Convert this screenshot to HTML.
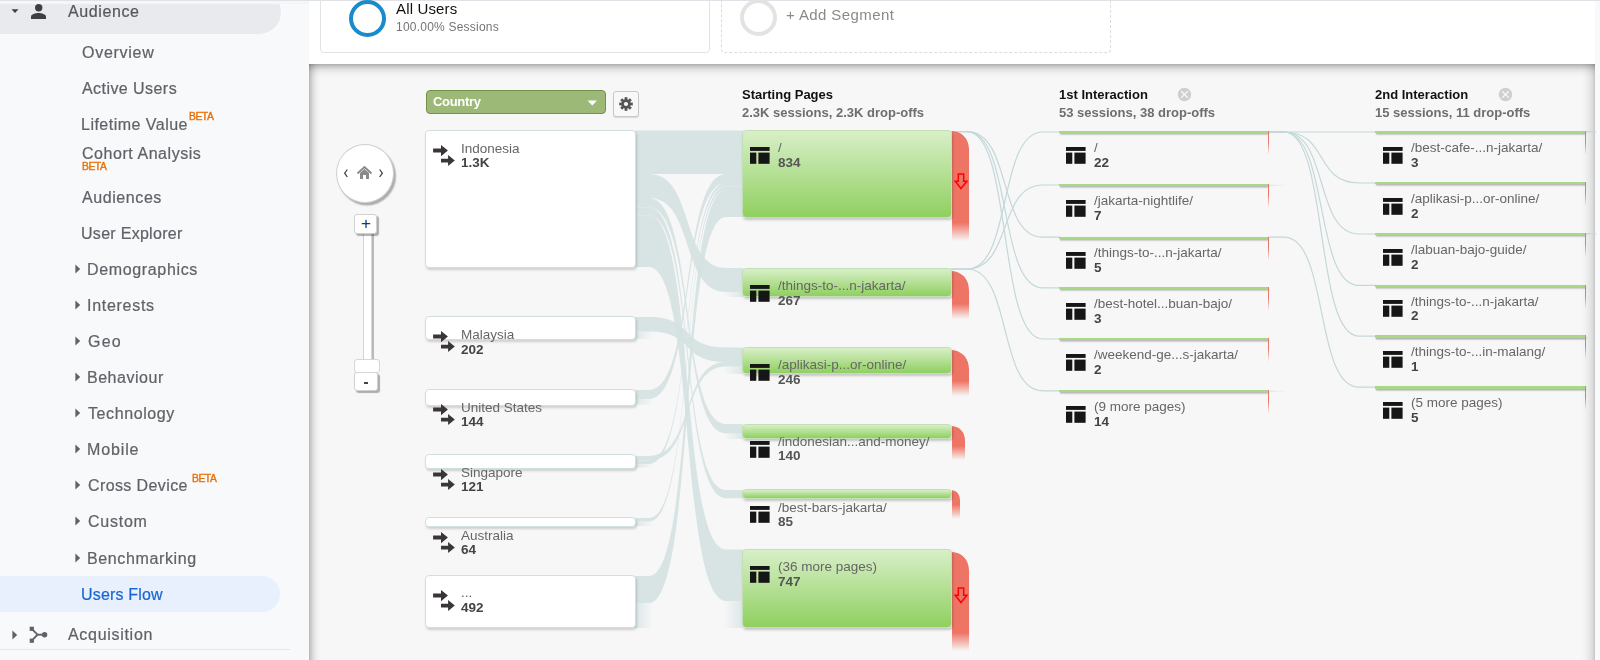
<!DOCTYPE html>
<html lang="en">
<head>
<meta charset="utf-8">
<title>Users Flow - Analytics</title>
<style>
html,body{margin:0;padding:0;}
.sb,.nl,.nv,.h1,.h2,.beta,.txt,.dd span{will-change:transform;}
body{width:1600px;height:660px;overflow:hidden;position:relative;background:#f8f9fa;font-family:"Liberation Sans",sans-serif;color:#5f6368;}
.abs{position:absolute;}
.topline{position:absolute;left:0;top:0;width:1600px;height:1px;background:#dfe2e6;}
/* sidebar */
.sb{position:absolute;font-size:16px;line-height:20px;white-space:nowrap;color:#5f6368;letter-spacing:0.35px;-webkit-text-stroke:0.22px currentColor;}
.t-aud{color:#54585d;}
.t-uf{color:#1967d2;}
.pill-aud{position:absolute;left:0;top:-10.250px;width:280.600px;height:44px;background:#e8eaed;border-radius:0 22px 22px 0;}
.topcover{position:absolute;left:0;top:0;width:309px;height:3.500px;background:#f5f6f8;}
.pill-uf{position:absolute;left:0;top:576px;width:280px;height:36px;background:#e8f0fe;border-radius:0 18px 18px 0;}
.beta{font-size:10.300px;font-weight:normal;color:#e8710a;letter-spacing:-0.45px;line-height:10px;-webkit-text-stroke:0.4px #e8710a;}
/* main */
.main{position:absolute;left:309px;top:1px;width:1286px;height:64px;background:#fff;}
.seg1{position:absolute;left:320px;top:-6px;width:389.500px;height:59px;border:1px solid #e3e3e3;border-radius:4px;box-sizing:border-box;}
.seg2{position:absolute;left:721px;top:-6px;width:390px;height:59px;border:1px dashed #dcdcdc;border-radius:4px;box-sizing:border-box;}
.ring{position:absolute;border-radius:50%;box-sizing:border-box;}
.panel{position:absolute;left:309px;top:64px;width:1286px;height:600px;background:#f7f7f7;}
.shT{position:absolute;left:309px;top:64px;width:1286px;height:13px;background:linear-gradient(to bottom,rgba(0,0,0,.30) 0,rgba(0,0,0,.17) 3px,rgba(0,0,0,.08) 6px,rgba(0,0,0,.03) 9px,rgba(0,0,0,0) 13px);}
.shL{position:absolute;left:309px;top:64px;width:12px;height:600px;background:linear-gradient(to right,rgba(0,0,0,.26) 0,rgba(0,0,0,.14) 3px,rgba(0,0,0,.06) 6px,rgba(0,0,0,.02) 9px,rgba(0,0,0,0) 12px);}
.shR{position:absolute;left:1581px;top:64px;width:14px;height:600px;background:linear-gradient(to left,rgba(0,0,0,.20) 0,rgba(0,0,0,.10) 3px,rgba(0,0,0,.05) 7px,rgba(0,0,0,.02) 10px,rgba(0,0,0,0) 14px);}
.h1{position:absolute;font-size:13px;line-height:16px;font-weight:bold;color:#111;white-space:nowrap;}
.h2{position:absolute;font-size:13px;line-height:16px;font-weight:bold;color:#6e6e6e;white-space:nowrap;}
.dd{position:absolute;left:426px;top:90px;width:179.500px;height:24px;box-sizing:border-box;background:#9db978;border:1px solid #73934b;border-radius:4px;}
.dd span{position:absolute;left:6px;top:2.500px;letter-spacing:-0.3px;font-size:13px;line-height:16px;font-weight:bold;color:#fff;}
.gear{position:absolute;left:613px;top:91px;width:26px;height:26px;box-sizing:border-box;background:#f8f8f8;border:1px solid #c8c8c8;border-radius:3px;box-shadow:0 1px 1px rgba(0,0,0,.12);}
.cnode{position:absolute;left:425px;width:210.500px;box-sizing:border-box;background:#fff;border:1px solid #cfe0e1;border-radius:4px;box-shadow:1px 2px 2.5px rgba(0,0,0,.16);}
.gnode{position:absolute;left:742px;width:209.500px;box-sizing:border-box;border:1px solid #c3dfb6;border-radius:4px;background:linear-gradient(to bottom,#d8efc8 0%,#8fd060 100%);box-shadow:1px 2px 2.5px rgba(0,0,0,.2);}
.red{position:absolute;left:951.500px;background:#ee7566;}
.tnode{position:absolute;width:209.500px;height:2.200px;background:#a8d987;box-shadow:1px 1.5px 1.5px rgba(0,0,0,.3);}
.tred{position:absolute;width:1.300px;height:24px;background:linear-gradient(to bottom,#e9776a 0%,#e9776a 45%,rgba(233,119,106,0) 100%);}
.nl{position:absolute;font-size:13.5px;line-height:15px;color:#666;white-space:nowrap;}
.nv{position:absolute;font-size:13.5px;line-height:15px;font-weight:bold;color:#444;white-space:nowrap;}
.btn{position:absolute;box-sizing:border-box;background:#fff;border:1px solid #d0d0d0;border-radius:3px;box-shadow:2px 2px 1px rgba(0,0,0,.3);}
</style>
</head>
<body>
<div class="pill-aud"></div><div class="topcover"></div>
<div class="pill-uf"></div>
<svg class="abs" style="left:10px;top:8px" width="10" height="6" viewBox="0 0 10 6"><path d="M1.500 1.200 L8.500 1.200 L5 5 Z" fill="#3c4043"/></svg>
<svg class="abs" style="left:30px;top:4px" width="17" height="16" viewBox="0 0 17 16"><circle cx="8.700" cy="3.800" r="3.700" fill="#3c4043"/><path d="M1 15 L1 12.6 C1 10.2 5.5 9 8.5 9 C11.500 9 16 10.2 16 12.6 L16 15 Z" fill="#3c4043"/></svg>
<div class="sb t-aud" style="left:68.300px;top:2.3px;letter-spacing:0.6px">Audience</div>
<div class="sb" style="left:82px;top:43.2px;letter-spacing:0.72px">Overview</div>
<div class="sb" style="left:82.1px;top:78.9px;letter-spacing:0.44px">Active Users</div>
<div class="sb" style="left:81.4px;top:114.8px;letter-spacing:0.48px">Lifetime Value</div>
<div class="beta abs" style="left:189.200px;top:112.33px">BETA</div>
<div class="sb" style="left:82px;top:144.1px;letter-spacing:0.55px">Cohort Analysis</div>
<div class="beta abs" style="left:81.600px;top:161.73px">BETA</div>
<div class="sb" style="left:82.1px;top:187.6px;letter-spacing:0.58px">Audiences</div>
<div class="sb" style="left:81.4px;top:223.6px;letter-spacing:0.29px">User Explorer</div>
<svg class="abs" style="left:74.700px;top:264.2px" width="6" height="10" viewBox="0 0 6 10"><path d="M0.400 0.400 L5.200 5 L0.400 9.600 Z" fill="#5f6368"/></svg>
<div class="sb" style="left:87.4px;top:260px;letter-spacing:0.65px">Demographics</div>
<svg class="abs" style="left:74.700px;top:300.2px" width="6" height="10" viewBox="0 0 6 10"><path d="M0.400 0.400 L5.200 5 L0.400 9.600 Z" fill="#5f6368"/></svg>
<div class="sb" style="left:87.4px;top:296px;letter-spacing:0.72px">Interests</div>
<svg class="abs" style="left:74.700px;top:336.2px" width="6" height="10" viewBox="0 0 6 10"><path d="M0.400 0.400 L5.200 5 L0.400 9.600 Z" fill="#5f6368"/></svg>
<div class="sb" style="left:88.1px;top:332px;letter-spacing:1.2px">Geo</div>
<svg class="abs" style="left:74.700px;top:372.2px" width="6" height="10" viewBox="0 0 6 10"><path d="M0.400 0.400 L5.200 5 L0.400 9.600 Z" fill="#5f6368"/></svg>
<div class="sb" style="left:87.4px;top:368px;letter-spacing:0.52px">Behaviour</div>
<svg class="abs" style="left:74.700px;top:408.2px" width="6" height="10" viewBox="0 0 6 10"><path d="M0.400 0.400 L5.200 5 L0.400 9.600 Z" fill="#5f6368"/></svg>
<div class="sb" style="left:87.6px;top:404px;letter-spacing:0.6px">Technology</div>
<svg class="abs" style="left:74.700px;top:444.2px" width="6" height="10" viewBox="0 0 6 10"><path d="M0.400 0.400 L5.200 5 L0.400 9.600 Z" fill="#5f6368"/></svg>
<div class="sb" style="left:87.4px;top:440px;letter-spacing:0.87px">Mobile</div>
<svg class="abs" style="left:74.700px;top:480.2px" width="6" height="10" viewBox="0 0 6 10"><path d="M0.400 0.400 L5.200 5 L0.400 9.600 Z" fill="#5f6368"/></svg>
<div class="sb" style="left:88px;top:476px;letter-spacing:0.39px">Cross Device</div>
<div class="beta abs" style="left:192.300px;top:473.63px">BETA</div>
<svg class="abs" style="left:74.700px;top:516.4px" width="6" height="10" viewBox="0 0 6 10"><path d="M0.400 0.400 L5.200 5 L0.400 9.600 Z" fill="#5f6368"/></svg>
<div class="sb" style="left:88px;top:512.2px;letter-spacing:0.76px">Custom</div>
<svg class="abs" style="left:74.700px;top:553.2px" width="6" height="10" viewBox="0 0 6 10"><path d="M0.400 0.400 L5.200 5 L0.400 9.600 Z" fill="#5f6368"/></svg>
<div class="sb" style="left:87.4px;top:549px;letter-spacing:0.63px">Benchmarking</div>
<div class="sb t-uf" style="left:81.400px;top:585.2px;letter-spacing:0.18px">Users Flow</div>
<svg class="abs" style="left:12px;top:630px" width="6" height="10" viewBox="0 0 6 10"><path d="M0.400 0.400 L5.200 5 L0.400 9.600 Z" fill="#5f6368"/></svg>
<svg class="abs" style="left:29px;top:626px" width="20" height="18" viewBox="0 0 20 18"><g fill="none" stroke="#5f6368" stroke-width="1.900"><path d="M2.800 2.800 L8.500 8.700 L2.800 14.600"/><path d="M8.500 8.700 L16 8.700"/></g><rect x="0.700" y="0.700" width="4.200" height="4.200" fill="#5f6368"/><rect x="0.700" y="12.600" width="4.200" height="4.200" fill="#5f6368"/><circle cx="15.600" cy="8.700" r="2.700" fill="#5f6368"/></svg>
<div class="sb t-aud" style="left:68.300px;top:625.1px;color:#5f6368;letter-spacing:0.7px">Acquisition</div>
<div class="abs" style="left:0;top:648.500px;width:289.500px;height:1px;background:#e4e6e9"></div>
<div class="main"></div>
<div class="topline"></div>
<div class="seg1"></div>
<div class="seg2"></div>
<div class="ring" style="left:349px;top:-0.500px;width:37px;height:37px;border:4.500px solid #1a8acb;"></div>
<div class="abs txt" style="left:396px;top:-0.200px;font-size:15px;line-height:18px;color:#111;white-space:nowrap;letter-spacing:0.15px">All Users</div>
<div class="abs txt" style="left:396px;top:19.500px;font-size:12px;line-height:14px;color:#757575;white-space:nowrap;letter-spacing:0.22px">100.00% Sessions</div>
<div class="ring" style="left:739.500px;top:-1px;width:37px;height:37px;border:4px solid #e3e3e3;"></div>
<div class="abs txt" style="left:786px;top:6px;font-size:15px;line-height:18px;color:#8a8a8a;white-space:nowrap;letter-spacing:0.4px">+ Add Segment</div>
<div class="panel"></div><div class="shT"></div><div class="shL"></div><div class="shR"></div>
<!-- controls -->
<div class="abs" style="left:336px;top:143.500px;width:58px;height:59px;box-sizing:border-box;border-radius:50%;background:#fff;border:1px solid #cfcfcf;box-shadow:2px 2.500px 1.500px rgba(0,0,0,.3);"></div>
<svg class="abs" style="left:340px;top:160px" width="50" height="26" viewBox="0 0 50 26">
<path d="M7.300 9.500 L4.700 13.200 L7.300 17" fill="none" stroke="#444" stroke-width="1.300"/>
<path d="M39.700 9.500 L42.300 13.200 L39.700 17" fill="none" stroke="#444" stroke-width="1.300"/>
<path d="M17.500 13.500 L24.500 7 L31.500 13.500" fill="none" stroke="#8a8a8a" stroke-width="1.800"/>
<path d="M20 13 L24.500 9 L29 13 L29 19 L26 19 L26 15 L23 15 L23 19 L20 19 Z" fill="#8a8a8a"/>
</svg>
<div class="abs" style="left:363px;top:228px;width:8.500px;height:134px;box-sizing:border-box;background:#fff;border:1px solid #d6d6d6;box-shadow:1.500px 0 1px rgba(0,0,0,.25);"></div>
<div class="btn" style="left:354px;top:213.500px;width:23px;height:20px;"></div>
<div class="abs" style="left:354.500px;top:213.500px;width:23px;height:20px;text-align:center;font-size:17px;line-height:20px;color:#333;">+</div>
<div class="btn" style="left:354px;top:372px;width:24px;height:19px;"></div>
<div class="abs" style="left:354px;top:359px;width:25.500px;height:14px;box-sizing:border-box;background:#fff;border:1px solid #d6d6d6;border-radius:3px;"></div>
<div class="abs" style="left:363.500px;top:382px;width:4.500px;height:1.600px;background:#444;"></div>
<!-- header widgets -->
<div class="dd"><span>Country</span><svg class="abs" style="left:160px;top:8.500px" width="11" height="6" viewBox="0 0 11 6"><path d="M0.500 0.500 L10 0.500 L5.250 5.500 Z" fill="#fff"/></svg></div>
<div class="gear"><svg class="abs" style="left:5px;top:5px" width="14" height="14" viewBox="0 0 14 14"><g transform="translate(7 7)"><g fill="#555"><rect x="-1.400" y="-6.800" width="2.800" height="13.600"/><rect x="-1.400" y="-6.800" width="2.800" height="13.600" transform="rotate(45)"/><rect x="-1.400" y="-6.800" width="2.800" height="13.600" transform="rotate(90)"/><rect x="-1.400" y="-6.800" width="2.800" height="13.600" transform="rotate(135)"/><circle r="4.700"/></g><circle r="2.100" fill="#f8f8f8"/></g></svg></div>
<div class="h1" style="left:742px;top:86.500px;">Starting Pages</div>
<div class="h2" style="left:742px;top:104.500px;">2.3K sessions, 2.3K drop-offs</div>
<div class="h1" style="left:1059px;top:86.500px;">1st Interaction</div>
<div class="h2" style="left:1059px;top:104.500px;">53 sessions, 38 drop-offs</div>
<div class="h1" style="left:1375px;top:86.500px;">2nd Interaction</div>
<div class="h2" style="left:1375px;top:104.500px;">15 sessions, 11 drop-offs</div>
<svg class="abs" style="left:1177.400px;top:86.900px" width="15" height="15" viewBox="0 0 15 15"><circle cx="7.500" cy="7.500" r="6.700" fill="#cfcfcf"/><path d="M4.200 4.200 L10.800 10.800 M10.800 4.200 L4.200 10.800" stroke="#f7f7f7" stroke-width="1.300"/></svg>
<svg class="abs" style="left:1498.300px;top:86.900px" width="15" height="15" viewBox="0 0 15 15"><circle cx="7.500" cy="7.500" r="6.700" fill="#cfcfcf"/><path d="M4.200 4.200 L10.800 10.800 M10.800 4.200 L4.200 10.800" stroke="#f7f7f7" stroke-width="1.300"/></svg>
<!-- flows -->
<svg class="abs" style="left:0;top:0" width="1600" height="660" viewBox="0 0 1600 660">
<defs>
<linearGradient id="fr" x1="0" x2="1" y1="0" y2="0"><stop offset="0" stop-color="#d6e3e4" stop-opacity="0.85"/><stop offset="1" stop-color="#d6e3e4" stop-opacity="0"/></linearGradient>
<linearGradient id="fl" x1="0" x2="1" y1="0" y2="0"><stop offset="0" stop-color="#d6e3e4" stop-opacity="0"/><stop offset="1" stop-color="#d6e3e4" stop-opacity="0.85"/></linearGradient>
</defs>
<g fill="#d5e2e2" fill-opacity="0.92">
<path d="M635 130.5 L649 130.5 C695.2 130.5 679.8 130.5 726 130.5 L743 130.5 L743 174 L726 174 C679.8 174 695.2 174 649 174 L635 174 Z"/>
<path d="M635 174 L649 174 C695.2 174 679.8 268 726 268 L743 268 L743 292 L726 292 C679.8 292 695.2 198 649 198 L635 198 Z"/>
<path d="M635 198 L649 198 C695.2 198 679.8 424 726 424 L743 424 L743 433.4 L726 433.4 C679.8 433.4 695.2 207.4 649 207.4 L635 207.4 Z"/>
<path d="M635 207.4 L649 207.4 C695.2 207.4 679.8 490 726 490 L743 490 L743 498.2 L726 498.2 C679.8 498.2 695.2 215.6 649 215.6 L635 215.6 Z"/>
<path d="M635 215.6 L649 215.6 C695.2 215.6 679.8 549.5 726 549.5 L743 549.5 L743 600.9 L726 600.9 C679.8 600.9 695.2 267 649 267 L635 267 Z"/>
<path d="M635 317 L649 317 C695.2 317 679.8 347.6 726 347.6 L743 347.6 L743 362.1 L726 362.1 C679.8 362.1 695.2 331.5 649 331.5 L635 331.5 Z"/>
<path d="M635 390 L649 390 C695.2 390 679.8 174 726 174 L743 174 L743 183 L726 183 C679.8 183 695.2 399 649 399 L635 399 Z"/>
<path d="M635 456 L649 456 C695.2 456 679.8 362.1 726 362.1 L743 362.1 L743 366.6 L726 366.6 C679.8 366.6 695.2 460.5 649 460.5 L635 460.5 Z"/>
<path d="M635 460.5 L649 460.5 C695.2 460.5 679.8 183 726 183 L743 183 L743 186.5 L726 186.5 C679.8 186.5 695.2 464 649 464 L635 464 Z"/>
<path d="M635 518 L649 518 C695.2 518 679.8 186.5 726 186.5 L743 186.5 L743 190 L726 190 C679.8 190 695.2 521.5 649 521.5 L635 521.5 Z"/>
<path d="M635 576 L649 576 C695.2 576 679.8 190 726 190 L743 190 L743 217 L726 217 C679.8 217 695.2 603 649 603 L635 603 Z"/>
</g>
<rect x="635" y="331.5" width="18" height="7.5" fill="url(#fr)"/>
<rect x="635" y="399" width="18" height="5.5" fill="url(#fr)"/>
<rect x="635" y="464" width="18" height="3.5" fill="url(#fr)"/>
<rect x="635" y="521.5" width="18" height="4.5" fill="url(#fr)"/>
<rect x="635" y="603" width="18" height="25" fill="url(#fr)"/>
<rect x="724" y="292" width="19" height="5" fill="url(#fl)"/>
<rect x="724" y="366.6" width="19" height="7.4" fill="url(#fl)"/>
<rect x="724" y="433.4" width="19" height="5.6" fill="url(#fl)"/>
<rect x="724" y="600.9" width="19" height="27.1" fill="url(#fl)"/>
<g fill="none" stroke="#c4d8d9" stroke-width="1.2">
<path d="M951 131.6 L967 131.6 C1012.6 131.6 997.4 237.2 1043 237.2 L1060 237.2"/>
<path d="M951 131.6 L967 131.6 C1012.6 131.6 997.4 287.9 1043 287.9 L1060 287.9"/>
<path d="M951 131.6 L967 131.6 C1012.6 131.6 997.4 339 1043 339 L1060 339"/>
<path d="M951 269 L967 269 C1012.6 269 997.4 132 1043 132 L1060 132"/>
<path d="M951 269 L967 269 C1012.6 269 997.4 185 1043 185 L1060 185"/>
<path d="M951 269 L967 269 C1012.6 269 997.4 390.9 1043 390.9 L1060 390.9"/>
<path d="M1268 132 L1284 132 C1329 132 1314 132 1359 132 L1376 132"/>
<path d="M1268 132 L1284 132 C1329 132 1314 183 1359 183 L1376 183"/>
<path d="M1268 132 L1284 132 C1329 132 1314 234 1359 234 L1376 234"/>
<path d="M1268 132 L1284 132 C1329 132 1314 285.4 1359 285.4 L1376 285.4"/>
<path d="M1268 132 L1284 132 C1329 132 1314 336.1 1359 336.1 L1376 336.1"/>
<path d="M1268 237.2 L1284 237.2 C1329 237.2 1314 387.1 1359 387.1 L1376 387.1"/>
<path d="M1585 131.800 L1596 131.800"/><path d="M1585 233.800 L1596 233.800"/>
</g>
<rect x="1269.500" y="184.7" width="18" height="1.2" fill="url(#fr)"/>
<rect x="1269.500" y="390.6" width="18" height="1.2" fill="url(#fr)"/>
</svg>
<div class="cnode" style="top:130px;height:137.7px"></div>
<div class="cnode" style="top:316.2px;height:24px"></div>
<div class="cnode" style="top:389px;height:17px"></div>
<div class="cnode" style="top:454px;height:15px"></div>
<div class="cnode" style="top:517px;height:10.3px"></div>
<div class="cnode" style="top:575.3px;height:53.2px"></div>
<svg class="abs" style="left:432.500px;top:144.6px" width="23" height="22" viewBox="0 0 23 22"><g fill="#3a3536"><path d="M0.100 3.600 L8 3.600 L8 0 L14.900 5.600 L8 11.200 L8 7.600 L0.100 7.600 Z"/><path d="M8 13.700 L15.100 13.700 L15.100 10.100 L21.800 15.600 L15.100 21.100 L15.100 17.500 L8 17.500 Z"/></g></svg>
<div class="nl" style="left:461.3px;top:140.8px">Indonesia</div>
<div class="nv" style="left:461.3px;top:155.4px">1.3K</div>
<svg class="abs" style="left:432.500px;top:330.8px" width="23" height="22" viewBox="0 0 23 22"><g fill="#3a3536"><path d="M0.100 3.600 L8 3.600 L8 0 L14.900 5.600 L8 11.200 L8 7.600 L0.100 7.600 Z"/><path d="M8 13.700 L15.100 13.700 L15.100 10.100 L21.800 15.600 L15.100 21.100 L15.100 17.500 L8 17.500 Z"/></g></svg>
<div class="nl" style="left:461.3px;top:327px">Malaysia</div>
<div class="nv" style="left:461.3px;top:341.6px">202</div>
<svg class="abs" style="left:432.500px;top:403.6px" width="23" height="22" viewBox="0 0 23 22"><g fill="#3a3536"><path d="M0.100 3.600 L8 3.600 L8 0 L14.900 5.600 L8 11.200 L8 7.600 L0.100 7.600 Z"/><path d="M8 13.700 L15.100 13.700 L15.100 10.100 L21.800 15.600 L15.100 21.100 L15.100 17.500 L8 17.500 Z"/></g></svg>
<div class="nl" style="left:461.3px;top:399.8px">United States</div>
<div class="nv" style="left:461.3px;top:414.4px">144</div>
<svg class="abs" style="left:432.500px;top:468.6px" width="23" height="22" viewBox="0 0 23 22"><g fill="#3a3536"><path d="M0.100 3.600 L8 3.600 L8 0 L14.900 5.600 L8 11.200 L8 7.600 L0.100 7.600 Z"/><path d="M8 13.700 L15.100 13.700 L15.100 10.100 L21.800 15.600 L15.100 21.100 L15.100 17.500 L8 17.500 Z"/></g></svg>
<div class="nl" style="left:461.3px;top:464.8px">Singapore</div>
<div class="nv" style="left:461.3px;top:479.4px">121</div>
<svg class="abs" style="left:432.500px;top:531.6px" width="23" height="22" viewBox="0 0 23 22"><g fill="#3a3536"><path d="M0.100 3.600 L8 3.600 L8 0 L14.900 5.600 L8 11.200 L8 7.600 L0.100 7.600 Z"/><path d="M8 13.700 L15.100 13.700 L15.100 10.100 L21.800 15.600 L15.100 21.100 L15.100 17.500 L8 17.500 Z"/></g></svg>
<div class="nl" style="left:461.3px;top:527.8px">Australia</div>
<div class="nv" style="left:461.3px;top:542.4px">64</div>
<svg class="abs" style="left:432.500px;top:589.9px" width="23" height="22" viewBox="0 0 23 22"><g fill="#3a3536"><path d="M0.100 3.600 L8 3.600 L8 0 L14.900 5.600 L8 11.200 L8 7.600 L0.100 7.600 Z"/><path d="M8 13.700 L15.100 13.700 L15.100 10.100 L21.800 15.600 L15.100 21.100 L15.100 17.500 L8 17.500 Z"/></g></svg>
<div class="nl" style="left:461.3px;top:585.1px">...</div>
<div class="nv" style="left:461.3px;top:599.7px">492</div>
<div class="red" style="top:131px;height:109.7px;width:17.7px;border-top-right-radius:17.7px 18px;-webkit-mask-image:linear-gradient(to bottom,#000 83.59%,transparent 100%);mask-image:linear-gradient(to bottom,#000 83.59%,transparent 100%)"></div>
<div class="gnode" style="top:130px;height:88.2px"></div>
<svg class="abs" style="left:953.500px;top:172.5px" width="14" height="17" viewBox="0 0 14 17"><path d="M4.300 1 L9.700 1 L9.700 8.300 L12.800 8.300 L7 15.500 L1.200 8.300 L4.300 8.300 Z" fill="none" stroke="#f00" stroke-width="1.500" stroke-linejoin="miter"/></svg>
<div class="red" style="top:270.7px;height:48.3px;width:17.7px;border-top-right-radius:17.7px 19px;-webkit-mask-image:linear-gradient(to bottom,#000 68.94%,transparent 100%);mask-image:linear-gradient(to bottom,#000 68.94%,transparent 100%)"></div>
<div class="gnode" style="top:268px;height:29px"></div>
<div class="red" style="top:349.7px;height:46.3px;width:17.7px;border-top-right-radius:17.7px 19px;-webkit-mask-image:linear-gradient(to bottom,#000 67.6%,transparent 100%);mask-image:linear-gradient(to bottom,#000 67.6%,transparent 100%)"></div>
<div class="gnode" style="top:347px;height:27px"></div>
<div class="red" style="top:425.5px;height:34.5px;width:13.5px;border-top-right-radius:13.5px 14px;-webkit-mask-image:linear-gradient(to bottom,#000 59.42%,transparent 100%);mask-image:linear-gradient(to bottom,#000 59.42%,transparent 100%)"></div>
<div class="gnode" style="top:423.5px;height:15.5px"></div>
<div class="red" style="top:490.3px;height:28.7px;width:8.5px;border-top-right-radius:8.5px 10px;-webkit-mask-image:linear-gradient(to bottom,#000 51.22%,transparent 100%);mask-image:linear-gradient(to bottom,#000 51.22%,transparent 100%)"></div>
<div class="gnode" style="top:489.3px;height:9.7px"></div>
<div class="red" style="top:552px;height:98.7px;width:17.7px;border-top-right-radius:17.7px 18px;-webkit-mask-image:linear-gradient(to bottom,#000 81.76%,transparent 100%);mask-image:linear-gradient(to bottom,#000 81.76%,transparent 100%)"></div>
<div class="gnode" style="top:549px;height:79.2px"></div>
<svg class="abs" style="left:953.500px;top:586.5px" width="14" height="17" viewBox="0 0 14 17"><path d="M4.300 1 L9.700 1 L9.700 8.300 L12.800 8.300 L7 15.500 L1.200 8.300 L4.300 8.300 Z" fill="none" stroke="#f00" stroke-width="1.500" stroke-linejoin="miter"/></svg>
<svg class="abs" style="left:750px;top:147px" width="20" height="17" viewBox="0 0 20 17"><g fill="#161616"><rect x="0" y="0" width="19.600" height="3.900"/><rect x="0" y="5.600" width="6.300" height="11.200"/><rect x="8.400" y="5.600" width="11.200" height="11.200"/></g></svg>
<div class="nl" style="left:777.6px;top:140.2px">/</div>
<div class="nv" style="left:777.6px;top:154.8px;color:#555">834</div>
<svg class="abs" style="left:750px;top:285px" width="20" height="17" viewBox="0 0 20 17"><g fill="#161616"><rect x="0" y="0" width="19.600" height="3.900"/><rect x="0" y="5.600" width="6.300" height="11.200"/><rect x="8.400" y="5.600" width="11.200" height="11.200"/></g></svg>
<div class="nl" style="left:777.6px;top:278.2px">/things-to-...n-jakarta/</div>
<div class="nv" style="left:777.6px;top:292.8px;color:#555">267</div>
<svg class="abs" style="left:750px;top:364px" width="20" height="17" viewBox="0 0 20 17"><g fill="#161616"><rect x="0" y="0" width="19.600" height="3.900"/><rect x="0" y="5.600" width="6.300" height="11.200"/><rect x="8.400" y="5.600" width="11.200" height="11.200"/></g></svg>
<div class="nl" style="left:777.6px;top:357.2px">/aplikasi-p...or-online/</div>
<div class="nv" style="left:777.6px;top:371.8px;color:#555">246</div>
<svg class="abs" style="left:750px;top:440.5px" width="20" height="17" viewBox="0 0 20 17"><g fill="#161616"><rect x="0" y="0" width="19.600" height="3.900"/><rect x="0" y="5.600" width="6.300" height="11.200"/><rect x="8.400" y="5.600" width="11.200" height="11.200"/></g></svg>
<div class="nl" style="left:777.6px;top:433.7px">/indonesian...and-money/</div>
<div class="nv" style="left:777.6px;top:448.3px;color:#555">140</div>
<svg class="abs" style="left:750px;top:506.3px" width="20" height="17" viewBox="0 0 20 17"><g fill="#161616"><rect x="0" y="0" width="19.600" height="3.900"/><rect x="0" y="5.600" width="6.300" height="11.200"/><rect x="8.400" y="5.600" width="11.200" height="11.200"/></g></svg>
<div class="nl" style="left:777.6px;top:499.5px">/best-bars-jakarta/</div>
<div class="nv" style="left:777.6px;top:514.1px;color:#555">85</div>
<svg class="abs" style="left:750px;top:566px" width="20" height="17" viewBox="0 0 20 17"><g fill="#161616"><rect x="0" y="0" width="19.600" height="3.900"/><rect x="0" y="5.600" width="6.300" height="11.200"/><rect x="8.400" y="5.600" width="11.200" height="11.200"/></g></svg>
<div class="nl" style="left:777.6px;top:559.2px">(36 more pages)</div>
<div class="nv" style="left:777.6px;top:573.8px;color:#555">747</div>
<div class="tnode" style="left:1058.7px;top:131.3px"></div>
<div class="tred" style="left:1268px;top:131.3px"></div>
<svg class="abs" style="left:1066.4px;top:147px" width="20" height="17" viewBox="0 0 20 17"><g fill="#161616"><rect x="0" y="0" width="19.600" height="3.900"/><rect x="0" y="5.600" width="6.300" height="11.200"/><rect x="8.400" y="5.600" width="11.200" height="11.200"/></g></svg>
<div class="nl" style="left:1094.1px;top:140.2px">/</div>
<div class="nv" style="left:1094.1px;top:154.8px">22</div>
<div class="tnode" style="left:1058.7px;top:184.3px"></div>
<div class="tred" style="left:1268px;top:184.3px"></div>
<svg class="abs" style="left:1066.4px;top:200px" width="20" height="17" viewBox="0 0 20 17"><g fill="#161616"><rect x="0" y="0" width="19.600" height="3.900"/><rect x="0" y="5.600" width="6.300" height="11.200"/><rect x="8.400" y="5.600" width="11.200" height="11.200"/></g></svg>
<div class="nl" style="left:1094.1px;top:193.2px">/jakarta-nightlife/</div>
<div class="nv" style="left:1094.1px;top:207.8px">7</div>
<div class="tnode" style="left:1058.7px;top:236.5px"></div>
<div class="tred" style="left:1268px;top:236.5px"></div>
<svg class="abs" style="left:1066.4px;top:252.2px" width="20" height="17" viewBox="0 0 20 17"><g fill="#161616"><rect x="0" y="0" width="19.600" height="3.900"/><rect x="0" y="5.600" width="6.300" height="11.200"/><rect x="8.400" y="5.600" width="11.200" height="11.200"/></g></svg>
<div class="nl" style="left:1094.1px;top:245.4px">/things-to-...n-jakarta/</div>
<div class="nv" style="left:1094.1px;top:260px">5</div>
<div class="tnode" style="left:1058.7px;top:287.2px"></div>
<div class="tred" style="left:1268px;top:287.2px"></div>
<svg class="abs" style="left:1066.4px;top:302.9px" width="20" height="17" viewBox="0 0 20 17"><g fill="#161616"><rect x="0" y="0" width="19.600" height="3.900"/><rect x="0" y="5.600" width="6.300" height="11.200"/><rect x="8.400" y="5.600" width="11.200" height="11.200"/></g></svg>
<div class="nl" style="left:1094.1px;top:296.1px">/best-hotel...buan-bajo/</div>
<div class="nv" style="left:1094.1px;top:310.7px">3</div>
<div class="tnode" style="left:1058.7px;top:338.3px"></div>
<div class="tred" style="left:1268px;top:338.3px"></div>
<svg class="abs" style="left:1066.4px;top:354px" width="20" height="17" viewBox="0 0 20 17"><g fill="#161616"><rect x="0" y="0" width="19.600" height="3.900"/><rect x="0" y="5.600" width="6.300" height="11.200"/><rect x="8.400" y="5.600" width="11.200" height="11.200"/></g></svg>
<div class="nl" style="left:1094.1px;top:347.2px">/weekend-ge...s-jakarta/</div>
<div class="nv" style="left:1094.1px;top:361.8px">2</div>
<div class="tnode" style="left:1058.7px;top:390.2px"></div>
<div class="tred" style="left:1268px;top:390.2px"></div>
<svg class="abs" style="left:1066.4px;top:405.9px" width="20" height="17" viewBox="0 0 20 17"><g fill="#161616"><rect x="0" y="0" width="19.600" height="3.900"/><rect x="0" y="5.600" width="6.300" height="11.200"/><rect x="8.400" y="5.600" width="11.200" height="11.200"/></g></svg>
<div class="nl" style="left:1094.1px;top:399.1px">(9 more pages)</div>
<div class="nv" style="left:1094.1px;top:413.7px">14</div>
<div class="tnode" style="left:1375.2px;top:131.3px"></div>
<div class="tred" style="left:1584.5px;top:131.3px"></div>
<svg class="abs" style="left:1382.9px;top:147px" width="20" height="17" viewBox="0 0 20 17"><g fill="#161616"><rect x="0" y="0" width="19.600" height="3.900"/><rect x="0" y="5.600" width="6.300" height="11.200"/><rect x="8.400" y="5.600" width="11.200" height="11.200"/></g></svg>
<div class="nl" style="left:1410.6px;top:140.2px">/best-cafe-...n-jakarta/</div>
<div class="nv" style="left:1410.6px;top:154.8px">3</div>
<div class="tnode" style="left:1375.2px;top:182.3px"></div>
<div class="tred" style="left:1584.5px;top:182.3px"></div>
<svg class="abs" style="left:1382.9px;top:198px" width="20" height="17" viewBox="0 0 20 17"><g fill="#161616"><rect x="0" y="0" width="19.600" height="3.900"/><rect x="0" y="5.600" width="6.300" height="11.200"/><rect x="8.400" y="5.600" width="11.200" height="11.200"/></g></svg>
<div class="nl" style="left:1410.6px;top:191.2px">/aplikasi-p...or-online/</div>
<div class="nv" style="left:1410.6px;top:205.8px">2</div>
<div class="tnode" style="left:1375.2px;top:233.3px"></div>
<div class="tred" style="left:1584.5px;top:233.3px"></div>
<svg class="abs" style="left:1382.9px;top:249px" width="20" height="17" viewBox="0 0 20 17"><g fill="#161616"><rect x="0" y="0" width="19.600" height="3.900"/><rect x="0" y="5.600" width="6.300" height="11.200"/><rect x="8.400" y="5.600" width="11.200" height="11.200"/></g></svg>
<div class="nl" style="left:1410.6px;top:242.2px">/labuan-bajo-guide/</div>
<div class="nv" style="left:1410.6px;top:256.8px">2</div>
<div class="tnode" style="left:1375.2px;top:284.7px"></div>
<div class="tred" style="left:1584.5px;top:284.7px"></div>
<svg class="abs" style="left:1382.9px;top:300.4px" width="20" height="17" viewBox="0 0 20 17"><g fill="#161616"><rect x="0" y="0" width="19.600" height="3.900"/><rect x="0" y="5.600" width="6.300" height="11.200"/><rect x="8.400" y="5.600" width="11.200" height="11.200"/></g></svg>
<div class="nl" style="left:1410.6px;top:293.6px">/things-to-...n-jakarta/</div>
<div class="nv" style="left:1410.6px;top:308.2px">2</div>
<div class="tnode" style="left:1375.2px;top:335.4px"></div>
<div class="tred" style="left:1584.5px;top:335.4px"></div>
<svg class="abs" style="left:1382.9px;top:351.1px" width="20" height="17" viewBox="0 0 20 17"><g fill="#161616"><rect x="0" y="0" width="19.600" height="3.900"/><rect x="0" y="5.600" width="6.300" height="11.200"/><rect x="8.400" y="5.600" width="11.200" height="11.200"/></g></svg>
<div class="nl" style="left:1410.6px;top:344.3px">/things-to-...in-malang/</div>
<div class="nv" style="left:1410.6px;top:358.9px">1</div>
<div class="tnode" style="left:1375.2px;top:386.4px"></div>
<div class="tred" style="left:1584.5px;top:386.4px"></div>
<svg class="abs" style="left:1382.9px;top:402.1px" width="20" height="17" viewBox="0 0 20 17"><g fill="#161616"><rect x="0" y="0" width="19.600" height="3.900"/><rect x="0" y="5.600" width="6.300" height="11.200"/><rect x="8.400" y="5.600" width="11.200" height="11.200"/></g></svg>
<div class="nl" style="left:1410.6px;top:395.3px">(5 more pages)</div>
<div class="nv" style="left:1410.6px;top:409.9px">5</div>
</body>
</html>
